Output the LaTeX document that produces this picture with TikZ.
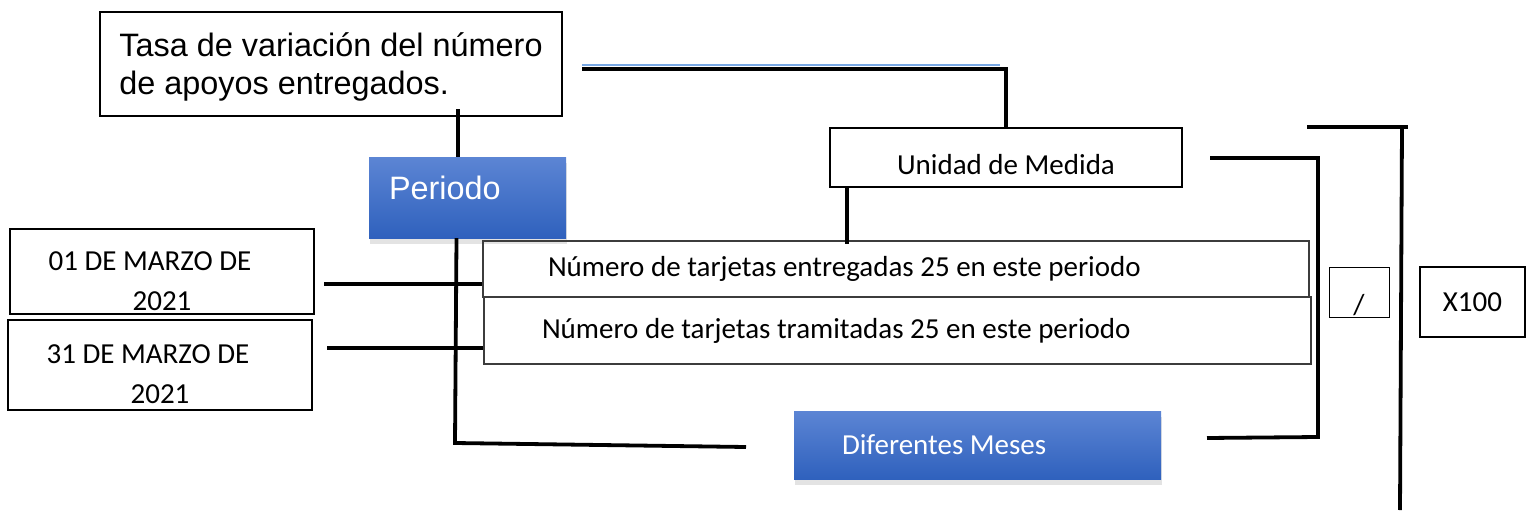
\documentclass[tikz,border=0pt]{standalone}
\usepackage{fontspec}
\setmainfont{Liberation Sans}
\newfontfamily\calibri{Carlito}
\usetikzlibrary{positioning,calc,shadows}

\definecolor{boxblueT}{RGB}{92,133,212}
\definecolor{boxblueB}{RGB}{47,97,189}
\definecolor{linkblue}{RGB}{120,168,228}
\definecolor{edgegray}{RGB}{60,60,60}
\newcommand{\arialtxt}{\fontsize{32.4}{38}\selectfont}
\newcommand{\calitxt}{\calibri\fontsize{29}{40}\selectfont}

\tikzset{
  plainbox/.style={draw, line width=1.5pt, inner sep=0pt, font=\calitxt},
  bluebox/.style={inner sep=0pt, top color=boxblueT, bottom color=boxblueB, text=white,
    drop shadow={shadow xshift=1pt, shadow yshift=-6pt, opacity=0.22}},
  conn/.style={line width=3.8pt}
}

\begin{document}
\begin{tikzpicture}[x=1pt, y=-1pt]
    \useasboundingbox (0,0) rectangle (1532,514);

    % Indicator name
    \node[plainbox, font=\arialtxt, minimum width=462, minimum height=104, align=flush left, text depth=0pt] (title) at (331,64) {Tasa de variación del número\\de apoyos entregados.};
    \node[bluebox, font=\arialtxt, minimum width=197, minimum height=81, text width=157, align=flush left, text depth=20pt] (periodo) at (467.5,197.5) {Periodo};

    % Dates
    \node[plainbox, minimum width=304, minimum height=85, align=center] (date1) at (162,271.5) {\rule{0pt}{38.7pt}01 DE MARZO DE\hspace*{24pt}\\2021};
    \node[plainbox, minimum width=304, minimum height=90, align=center] (date2) at (160,365) {\rule{0pt}{36.7pt}31 DE MARZO DE\hspace*{24pt}\\2021};

    % Numerator and denominator
    \node[plainbox, draw=edgegray, line width=1.3pt, minimum width=826, minimum height=56, text width=696, align=flush left] (num1) at (896,269) {Número de tarjetas entregadas 25 en este periodo};
    \node[plainbox, draw=edgegray, line width=1.3pt, minimum width=827, minimum height=67, text width=711, align=flush left] (num2) at (897.5,330.5) {Número de tarjetas tramitadas 25 en este periodo};

    \node[plainbox, line width=2.5pt, minimum width=352, minimum height=59, text height=34pt, text depth=0pt] (unidad) at (1006,157.5) {Unidad de Medida};
    \node[bluebox, font=\calitxt, minimum width=367, minimum height=68, text width=271, align=flush left] (meses) at (977.5,445) {Diferentes Meses};

    % Operators
    \node[plainbox, line width=1pt, minimum width=60, minimum height=50, text height=44pt, text depth=0pt] (slash) at (1359,292) {/};
    \node[plainbox, line width=2pt, minimum width=105, minimum height=70] (xcien) at (1472.5,302) {X100};

    % Connectors
    \coordinate (tp) at (458,109);
    \draw[conn] (tp) -- (tp |- periodo.north);

    \coordinate (pm) at (455,443);
    \coordinate (pmend) at (746,447);
    \draw[conn] ([xshift=-11pt]periodo.south) -- (pm) -- (pmend);

    \coordinate (tu) at (582,69);
    \draw[linkblue, line width=1.2pt] ([yshift=4pt]tu) -- ++(418,0);
    \draw[conn] (tu) -| (unidad.north);

    \draw[conn] ([xshift=-159pt]unidad.south) -- +(0,56);

    \coordinate (d1) at (324,284);
    \draw[conn] (d1) -- (d1 -| num1.west);
    \coordinate (d2) at (327,348);
    \draw[conn] (d2) -- (d2 -| num2.west);

    % Brackets
    \coordinate (b1) at (1210,158);
    \coordinate (b1c) at (1318,437);
    \coordinate (b1e) at (1207,438);
    \draw[conn] (b1) -| (b1c) -- (b1e);

    \coordinate (b2) at (1307,127);
    \coordinate (b2e) at (1408,127);
    \coordinate (b2b) at (1400,510);
    \draw[conn] (b2) -- (b2e);
    \draw[conn] ([xshift=-6pt]b2e) -- (b2b);
\end{tikzpicture}
\end{document}
